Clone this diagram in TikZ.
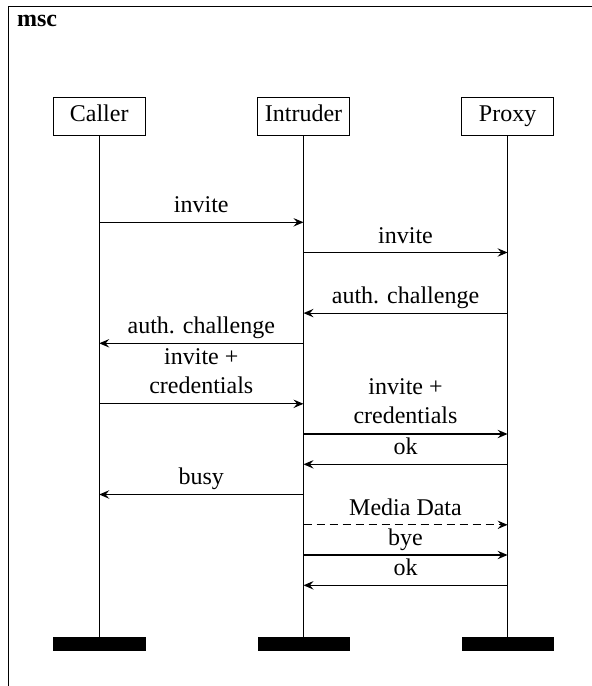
\documentclass[tikz,border=0pt]{standalone}
\usepackage{fontspec}
\setmainfont{Liberation Serif}
\usetikzlibrary{arrows.meta}
\begin{document}
\begin{tikzpicture}[x=0.5pt,y=-0.5pt,
  font=\fontsize{12}{14.5}\selectfont,
  every path/.style={line width=0.6pt},
  inst/.style={draw, line width=0.6pt, minimum width=46pt, minimum height=19.2pt, inner sep=0pt, text height=8.2pt, text depth=3pt},
  endbar/.style={fill=black, draw=black, line width=0.3pt, minimum width=45.7pt, minimum height=6.1pt, inner sep=0pt},
  msg/.style={-{Stealth[length=5pt,width=4.2pt,inset=1.8pt]}, line width=0.6pt},
  lbl/.style={anchor=base, inner sep=0pt}
]
\useasboundingbox (0,0) rectangle (592,686);
% frame (cropped at right and bottom)
\draw[line width=0.6pt] (8.3,720) -- (8.3,6.3) -- (620,6.3);
\node[anchor=base west, inner sep=0pt, font=\fontsize{12}{14.5}\selectfont\bfseries] (title) at (16.5,26) {msc};
% instances
\node[inst] (caller) at (99.2,116.5) {Caller};
\node[inst] (intruder) at (303.5,116.5) {Intruder};
\node[inst] (proxy) at (507.6,116.5) {Proxy};
\node[endbar] (callerend) at (99.2,643.7) {};
\node[endbar] (intruderend) at (303.5,643.7) {};
\node[endbar] (proxyend) at (507.6,643.7) {};
\draw (caller.south) -- (callerend.north);
\draw (intruder.south) -- (intruderend.north);
\draw (proxy.south) -- (proxyend.north);
% messages
\draw[msg] (caller |- 0,222.3) -- (intruder |- 0,222.3);
\node[lbl] (m1) at (201.3,212.8) {invite};
\draw[msg] (intruder |- 0,252.5) -- (proxy |- 0,252.5);
\node[lbl] (m2) at (405.5,243) {invite};
\draw[msg] (proxy |- 0,313.1) -- (intruder |- 0,313.1);
\node[lbl] (m3) at (405.5,303.4) {auth. challenge};
\draw[msg] (intruder |- 0,343.3) -- (caller |- 0,343.3);
\node[lbl] (m4) at (201.3,333.6) {auth. challenge};
\draw[msg] (caller |- 0,403.8) -- (intruder |- 0,403.8);
\node[lbl] (m5) at (201.3,393.6) {\begin{tabular}[b]{@{}c@{}}invite +\\credentials\end{tabular}};
\draw[msg] (intruder |- 0,434) -- (proxy |- 0,434);
\node[lbl] (m6) at (405.5,423.8) {\begin{tabular}[b]{@{}c@{}}invite +\\credentials\end{tabular}};
\draw[msg] (proxy |- 0,464.3) -- (intruder |- 0,464.3);
\node[lbl] (m7) at (405.5,454.6) {ok};
\draw[msg] (intruder |- 0,494.5) -- (caller |- 0,494.5);
\node[lbl] (m8) at (201.3,484.8) {busy};
\draw[msg, dashed, dash pattern=on 4pt off 2.5pt] (intruder |- 0,524.8) -- (proxy |- 0,524.8);
\node[lbl] (m9) at (405.5,515.1) {Media Data};
\draw[msg] (intruder |- 0,555) -- (proxy |- 0,555);
\node[lbl] (m10) at (405.5,545.3) {bye};
\draw[msg] (proxy |- 0,585.3) -- (intruder |- 0,585.3);
\node[lbl] (m11) at (405.5,575.6) {ok};
\end{tikzpicture}
\end{document}
